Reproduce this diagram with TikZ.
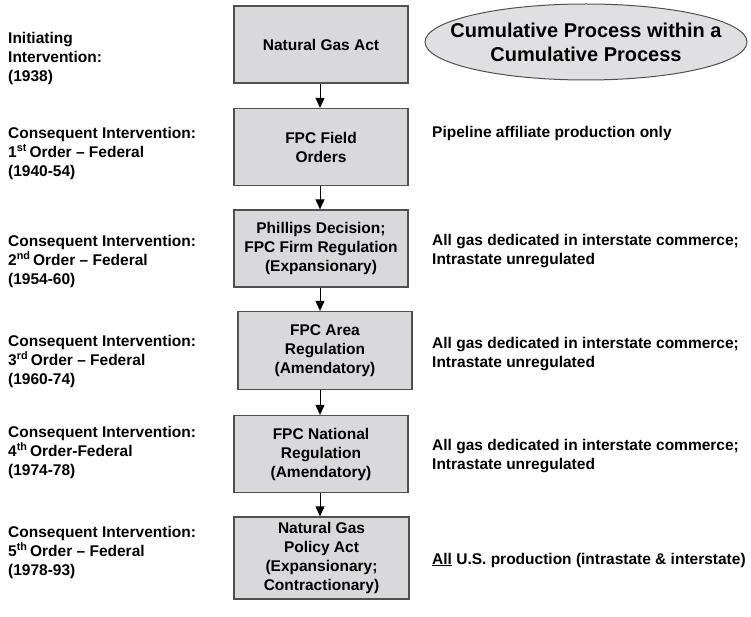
\documentclass[tikz,border=0pt]{standalone}
\usepackage{fontspec}
\setmainfont{Liberation Sans}
\usetikzlibrary{arrows.meta}
\definecolor{boxfill}{RGB}{217,217,219}
\definecolor{boxline}{RGB}{80,80,80}
\definecolor{ovalfill}{RGB}{224,224,226}
\begin{document}
\begin{tikzpicture}[x=1bp,y=-1bp,
  every node/.style={font=\bfseries\fontsize{15.5bp}{19bp}\selectfont},
  stagebox/.style={draw=boxline,line width=1.3bp,fill=boxfill,rectangle,
    align=center,inner sep=0pt,minimum width=174bp,minimum height=77bp},
  sidelabel/.style={anchor=west,align=left,inner sep=0pt},
  flow/.style={-{Triangle[width=9bp,length=10bp]},line width=1bp,black}]
\useasboundingbox (0,0) rectangle (751,617);

% chain of interventions
\node[stagebox] (b1) at (321,44.5) {Natural Gas Act};
\node[stagebox] (b2) at (321,147) {FPC Field\\Orders};
\node[stagebox] (b3) at (321,248.5) {Phillips Decision;\\FPC Firm Regulation\\(Expansionary)};
\node[stagebox,minimum height=78bp] (b4) at (325,350.5) {FPC Area\\Regulation\\(Amendatory)};
\node[stagebox] (b5) at (321,454) {FPC National\\Regulation\\(Amendatory)};
\node[stagebox,minimum width=175bp,minimum height=82bp] (b6) at (321.5,558) {Natural Gas\\Policy Act\\(Expansionary;\\Contractionary)};

\draw[flow] (b1.south -| 320,0) -- (b2.north -| 320,0);
\draw[flow] (b2.south -| 320,0) -- (b3.north -| 320,0);
\draw[flow] (b3.south -| 320,0) -- (b4.north -| 320,0);
\draw[flow] (b4.south -| 320,0) -- (b5.north -| 320,0);
\draw[flow] (b5.south -| 320,0) -- (b6.north -| 320,0);

% title oval
\node[align=center,inner sep=0pt,
  font=\bfseries\fontsize{20bp}{24bp}\selectfont] (title) at (586,42)
  {\phantom{Cumulative Process within a}\\\phantom{Cumulative Process}};
\draw[draw=boxline,line width=1bp,fill=ovalfill]
  (title.center) ellipse [x radius=161bp,y radius=38bp];
\node[align=center,inner sep=0pt,
  font=\bfseries\fontsize{20bp}{24bp}\selectfont] (titletext) at (title.center)
  {Cumulative Process within a\\Cumulative Process};

% intervention levels
\node[sidelabel] (l1) at (8,58) {Initiating\\Intervention:\\(1938)};
\node[sidelabel] (l2) at (8,153) {Consequent Intervention:\\1\textsuperscript{st}\,Order -- Federal\\(1940-54)};
\node[sidelabel] (l3) at (8,261) {Consequent Intervention:\\2\textsuperscript{nd}\,Order -- Federal\\(1954-60)};
\node[sidelabel] (l4) at (8,361) {Consequent Intervention:\\3\textsuperscript{rd}\,Order -- Federal\\(1960-74)};
\node[sidelabel] (l5) at (8,452) {Consequent Intervention:\\4\textsuperscript{th}\,Order-Federal\\(1974-78)};
\node[sidelabel] (l6) at (8,552) {Consequent Intervention:\\5\textsuperscript{th}\,Order -- Federal\\(1978-93)};

% scope of regulation
\node[sidelabel] (r2) at (432,133) {Pipeline affiliate production only};
\node[sidelabel] (r3) at (432,251) {All gas dedicated in interstate commerce;\\Intrastate unregulated};
\node[sidelabel] (r4) at (432,354) {All gas dedicated in interstate commerce;\\Intrastate unregulated};
\node[sidelabel] (r5) at (432,456) {All gas dedicated in interstate commerce;\\Intrastate unregulated};
\node[sidelabel] (r6) at (432,560) {\underline{All} U.S. production (intrastate \& interstate)};
\end{tikzpicture}
\end{document}
